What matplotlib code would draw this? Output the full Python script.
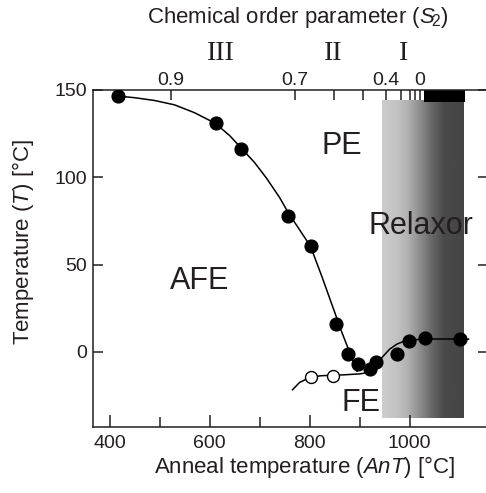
import numpy as np
import matplotlib
matplotlib.use("Agg")
import matplotlib.pyplot as plt
import matplotlib.transforms as mtransforms

plt.rcParams["font.family"] = ["Liberation Sans", "DejaVu Sans"]
plt.rcParams["mathtext.fontset"] = "custom"
plt.rcParams["mathtext.rm"] = "Liberation Sans"
plt.rcParams["mathtext.it"] = "Liberation Sans:italic"

INK = "#231f20"

# measured transition temperatures (filled) and FE transition (open)
ant_filled = [417, 612, 662, 756, 802, 853, 876, 896, 920, 933, 975, 999, 1030, 1101]
t_filled   = [146.6, 131.3, 116.0, 77.9, 60.7, 16.0, -1.1, -7.0, -9.9, -5.9, -1.3, 6.3, 8.2, 7.4]
ant_open = [803, 847]
t_open   = [-14.1, -13.7]

# guide curves
afe_x = [417, 450, 490, 530, 570, 611, 640, 661, 690, 714, 740, 758, 780, 802, 825, 850, 865, 880, 895]
afe_y = [146.5, 145.6, 144, 141.5, 137, 131, 124, 117.5, 108.5, 99.5, 88.5, 79.5, 70, 60.5, 43, 23, 11, 0, -11]
fe_x = [766, 780, 803, 825, 847, 870, 900, 918, 930, 945, 960, 975, 990, 1010, 1040, 1080, 1118]
fe_y = [-21.7, -17.5, -14.3, -13.6, -13.4, -13.1, -12.6, -11.8, -8.5, -3.2, 1.5, 4.5, 6.2, 7.0, 7.4, 7.4, 7.3]

# relaxor shading (grey level across anneal temperature)
shade_x    = [944, 975, 995, 1020, 1045, 1068, 1108]
shade_grey = [0.80, 0.76, 0.70, 0.55, 0.40, 0.29, 0.27]

# top axis: chemical order parameter
s2_pos    = [522, 770, 848, 906, 952, 982, 1000, 1010, 1020]
s2_labels = ["0.9", "0.7", "", "", "0.4", "", "", "", "0"]

regions = ["III", "II", "I"]
region_x = [622, 848, 988]

fig = plt.figure(figsize=(4.86, 4.93), dpi=100)
ax = fig.add_axes([93 / 486, 66 / 493, 395 / 486, 337 / 493])
ax.set_xlim(367, 1157)
ax.set_ylim(-43, 150)

xs = np.linspace(shade_x[0], shade_x[-1], 300)
grey = np.interp(xs, shade_x, shade_grey)[None, :]
ax.imshow(grey, cmap="gray", vmin=0, vmax=1, aspect="auto",
          extent=(shade_x[0], shade_x[-1], -37.8, 144.3), zorder=0,
          interpolation="bilinear")
ax.fill_between([1029, 1110], 143, 150, color="black", lw=0, zorder=1)

ax.plot(afe_x, afe_y, color="black", lw=1.1, zorder=2)
ax.plot(fe_x, fe_y, color="black", lw=1.1, zorder=2)
ax.plot(ant_filled, t_filled, "o", color="black", ms=9.2, zorder=3)
ax.plot(ant_open, t_open, "o", mfc="white", mec="black", mew=1.0, ms=8.6, zorder=3)

ax.text(864, 118, "PE", fontsize=22, color=INK, ha="center", va="center")
ax.text(581, 40.6, "AFE", fontsize=22, color=INK, ha="center", va="center")
ax.text(1022, 72, "Relaxor", fontsize=22, color=INK, ha="center", va="center")
ax.text(902, -29, "FE", fontsize=22, color=INK, ha="center", va="center")

for s in ax.spines.values():
    s.set_color(INK)
    s.set_linewidth(1.1)

ax.set_xticks([400, 600, 800, 1000])
ax.set_xticks([500, 700, 900], minor=True)
ax.set_yticks([0, 50, 100, 150])
ax.tick_params(axis="x", which="major", direction="in", length=8.5, width=1.1,
               color=INK, labelcolor=INK, labelsize=14, pad=6, top=False)
ax.tick_params(axis="x", which="minor", direction="in", length=7, width=1.1,
               color=INK, top=False)
ax.tick_params(axis="y", direction="in", length=7.5, width=1.1, color=INK,
               labelcolor=INK, labelsize=14, pad=4, right=True)

top = ax.secondary_xaxis("top")
top.set_xticks(s2_pos)
top.set_xticklabels(s2_labels)
top.tick_params(direction="in", length=7, width=1.1, color=INK,
                labelcolor=INK, labelsize=14, pad=0.5)
top.spines["top"].set_visible(False)

trans = mtransforms.blended_transform_factory(ax.transData, fig.transFigure)
for r, rx in zip(regions, region_x):
    ax.text(rx, 1 - 54 / 493, r, transform=trans, fontsize=20,
            family="Liberation Serif", color=INK, ha="center", va="center")

fig.text(298 / 486, 1 - 18 / 493, r"Chemical order parameter ($S_{\!2}$)",
         fontsize=16, color=INK, ha="center", va="center")
fig.text(305 / 486, 1 - 467 / 493, r"Anneal temperature ($AnT$) [°C]",
         fontsize=16, color=INK, ha="center", va="center")
fig.text(23 / 486, 1 - 242 / 493, r"Temperature ($T$) [°C]", rotation=90,
         fontsize=16, color=INK, ha="center", va="center")

fig.savefig("out.png", dpi=100)
